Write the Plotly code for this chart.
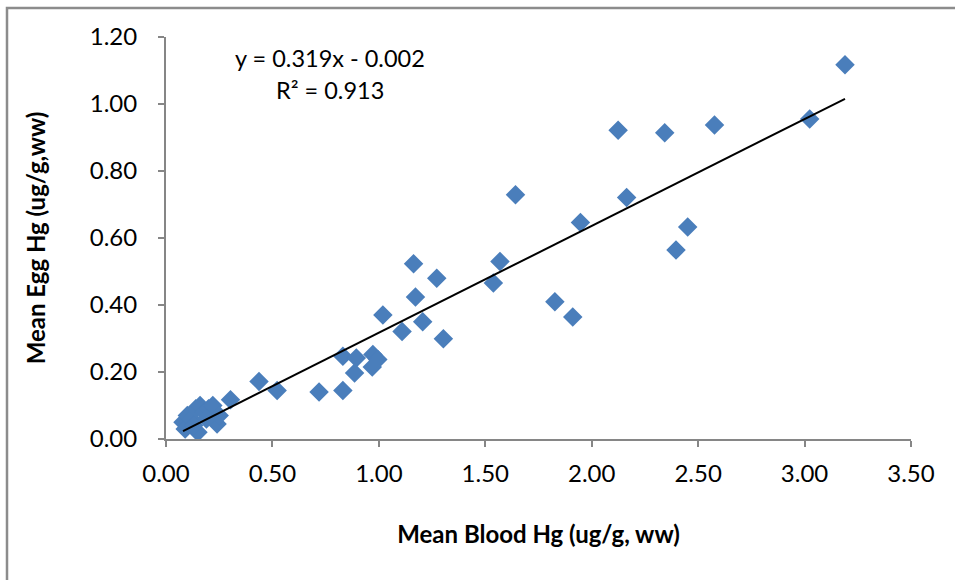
import plotly.graph_objects as go

# Data
blood_hg = [3.19, 3.024, 2.577, 2.343, 2.124, 1.642, 2.164, 1.947, 2.451, 2.396,
            1.569, 1.538, 1.827, 1.911, 1.163, 1.272, 1.172, 1.019, 1.206, 1.109,
            1.303, 0.831, 0.894, 0.972, 0.995, 0.969, 0.886, 0.719, 0.831, 0.437,
            0.522, 0.303,
            0.08, 0.09, 0.10, 0.12, 0.14, 0.15, 0.16, 0.18, 0.20, 0.22, 0.24, 0.25,
            0.13, 0.19]
egg_hg = [1.117, 0.955, 0.937, 0.914, 0.922, 0.729, 0.721, 0.646, 0.633, 0.564,
          0.530, 0.466, 0.410, 0.364, 0.523, 0.480, 0.424, 0.370, 0.350, 0.321,
          0.299, 0.247, 0.242, 0.252, 0.237, 0.215, 0.197, 0.140, 0.145, 0.172,
          0.145, 0.117,
          0.05, 0.03, 0.07, 0.06, 0.09, 0.02, 0.10, 0.08, 0.09, 0.10, 0.045, 0.07,
          0.04, 0.06]

trend_slope = 0.319
trend_intercept = -0.002
equation_text = "y = 0.319x - 0.002"
r2_text = "R² = 0.913"
x_title = "Mean Blood Hg (ug/g, ww)"
y_title = "Mean Egg Hg (ug/g,ww)"

W, H = 955, 580
ML, MR, MT, MB = 166, 44, 37, 141
pw = W - ML - MR
ph = H - MT - MB

FONT = "Lato"
GRAY = "#868686"

tx = [min(blood_hg), max(blood_hg)]
ty = [trend_slope * v + trend_intercept for v in tx]

fig = go.Figure()
fig.add_trace(go.Scatter(
    x=blood_hg, y=egg_hg, mode="markers",
    marker=dict(symbol="diamond", size=15, color="#4A7EBB", line=dict(width=0)),
    showlegend=False, hoverinfo="x+y"))
fig.add_trace(go.Scatter(
    x=tx, y=ty, mode="lines", line=dict(color="black", width=2),
    showlegend=False, hoverinfo="skip"))

fig.update_layout(
    width=W, height=H,
    margin=dict(l=ML, r=MR, t=MT, b=MB, pad=0),
    paper_bgcolor="white", plot_bgcolor="white",
    font=dict(family=FONT, size=24, color="black"),
    xaxis=dict(range=[0, 3.5], dtick=0.5, tick0=0, tickformat=".2f",
               showgrid=False, zeroline=False, showline=True, linecolor=GRAY,
               linewidth=2, ticks="outside", ticklen=6, tickcolor=GRAY,
               tickwidth=1.5, ticklabelstandoff=6,
               title=dict(text="<b>" + x_title + "</b>", standoff=40,
                          font=dict(size=24))),
    yaxis=dict(range=[0, 1.2], dtick=0.2, tick0=0, tickformat=".2f",
               showgrid=False, zeroline=False, showline=True, linecolor=GRAY,
               linewidth=2, ticks="outside", ticklen=6, tickcolor=GRAY,
               tickwidth=1.5, ticklabelstandoff=16,
               title=dict(text="<b>" + y_title + "</b>", standoff=37,
                          font=dict(size=24))),
)

def px2paper(px, py):
    return (px - ML) / pw, (H - MB - py) / ph

x0, y1 = px2paper(7, 8)
x1, y0 = px2paper(W + 20, H + 20)
fig.add_shape(type="rect", xref="paper", yref="paper",
              x0=x0, x1=x1, y0=y0, y1=y1,
              line=dict(color="#8c8c8c", width=2.5), fillcolor="rgba(0,0,0,0)",
              layer="below")

ax_, ay_ = px2paper(330, 58)
fig.add_annotation(xref="paper", yref="paper", x=ax_, y=ay_, text=equation_text,
                   showarrow=False, font=dict(size=23.5), xanchor="center", yanchor="middle")
bx_, by_ = px2paper(330, 90)
fig.add_annotation(xref="paper", yref="paper", x=bx_, y=by_, text=r2_text,
                   showarrow=False, font=dict(size=23.5), xanchor="center", yanchor="middle")

fig.write_html("out.html")
